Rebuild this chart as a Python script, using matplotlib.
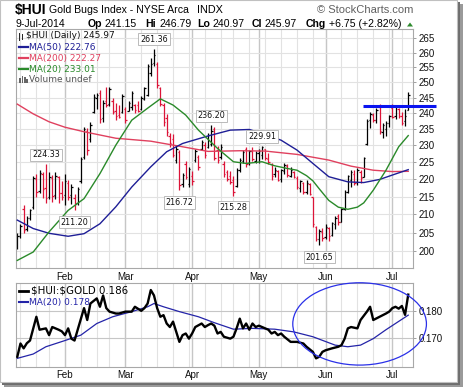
import numpy as np
import pandas as pd
import matplotlib
matplotlib.use('Agg')
import matplotlib.pyplot as plt
from matplotlib.patches import Rectangle, Ellipse, Polygon
from matplotlib.lines import Line2D
from matplotlib.ticker import FixedLocator, NullLocator, FixedFormatter

W, H = 464, 387

# ---------------- data ----------------
holidays = ['2014-01-20', '2014-02-17', '2014-04-18', '2014-05-26', '2014-07-04']
dates = pd.bdate_range('2014-01-10', '2014-07-09')
dates = dates[~dates.isin(pd.to_datetime(holidays))]

opens = [201.5, 204.0, 211.5, 206.0, 209.0, 212.0, 220.0, 216.5, 221.5, 217.5,
         215.0, 220.2, 215.5, 220.5, 216.0, 215.5, 219.0, 215.3, 214.5, 213.2,
         219.5, 226.5, 234.5, 232.0, 240.5, 244.8, 246.5, 238.5, 244.0, 242.8,
         244.0, 240.8, 239.5, 240.5, 241.5, 240.8, 242.0, 242.6, 242.5, 241.2,
         244.6, 246.0, 253.0, 256.5, 256.0, 248.0, 242.6, 238.5, 233.0, 232.0,
         225.5, 228.0, 218.5, 224.5, 218.5, 221.0, 225.5, 226.5, 229.0, 230.0,
         229.5, 230.5, 235.0, 228.5, 226.5, 224.5, 222.0, 221.0, 219.8, 218.0,
         222.8, 225.4, 228.8, 224.6, 228.4, 225.4, 227.8, 227.0, 228.8, 226.0,
         224.5, 221.4, 222.4, 220.0, 222.4, 223.8, 221.0, 222.0, 220.2, 217.4,
         218.8, 216.2, 218.6, 214.8, 206.6, 203.2, 205.2, 203.8, 206.2, 204.4,
         207.2, 209.6, 208.0, 211.6, 216.4, 219.8, 221.6, 219.2, 222.0, 220.6,
         230.4, 237.8, 239.4, 238.0, 242.0, 234.0, 235.0, 237.0, 241.6, 239.0,
         241.4, 239.0, 237.6, 241.15]
highs = [205.0, 207.3, 212.6, 209.5, 211.5, 220.8, 221.6, 222.6, 222.2, 224.33,
         222.0, 221.2, 222.0, 220.8, 219.5, 221.6, 219.8, 218.5, 215.8, 217.8,
         226.5, 235.8, 235.5, 237.2, 246.2, 246.6, 247.4, 244.2, 248.3, 248.6,
         244.8, 243.2, 242.6, 246.2, 242.0, 243.9, 247.3, 242.9, 243.9, 245.4,
         248.6, 256.0, 258.2, 261.36, 256.8, 248.4, 243.2, 239.6, 233.8, 233.6,
         229.8, 228.6, 221.8, 225.2, 223.6, 222.4, 228.8, 227.2, 231.8, 231.0,
         233.8, 236.2, 235.6, 229.8, 230.4, 225.2, 222.6, 222.4, 220.8, 223.2,
         226.2, 228.6, 229.6, 228.6, 229.6, 228.2, 228.8, 229.91, 228.9, 227.6,
         224.8, 223.6, 222.8, 223.0, 224.6, 224.4, 223.4, 222.4, 221.0, 219.8,
         219.2, 219.6, 218.8, 214.9, 206.8, 206.0, 206.2, 207.2, 206.6, 208.0,
         209.4, 210.0, 211.8, 216.8, 221.2, 222.8, 222.6, 223.2, 222.8, 226.6,
         238.2, 240.4, 240.0, 241.6, 242.9, 236.8, 237.4, 239.4, 242.8, 242.6,
         241.8, 240.4, 241.2, 246.79]
lows = [200.6, 203.5, 205.0, 205.4, 208.3, 211.5, 214.8, 216.0, 214.5, 213.2,
        214.2, 213.5, 214.2, 213.2, 214.0, 212.6, 214.0, 212.8, 211.20, 212.6,
        219.0, 226.0, 227.2, 231.0, 240.0, 241.2, 236.8, 237.2, 242.0, 242.3,
        239.6, 238.0, 238.4, 240.0, 237.0, 240.6, 241.0, 240.2, 240.5, 241.0,
        244.3, 245.6, 252.2, 255.6, 248.2, 242.2, 236.0, 233.0, 229.6, 226.4,
        224.8, 216.72, 217.6, 220.0, 217.8, 218.2, 225.0, 222.6, 228.6, 226.2,
        229.2, 229.8, 225.6, 224.8, 226.0, 220.6, 219.4, 218.6, 215.28, 217.6,
        222.0, 224.6, 223.6, 224.0, 225.2, 224.6, 224.6, 226.0, 225.6, 224.4,
        219.8, 220.6, 219.4, 219.2, 221.6, 220.6, 220.6, 220.2, 217.2, 216.4,
        215.6, 215.8, 215.4, 206.6, 202.8, 201.65, 202.8, 203.4, 202.8, 204.0,
        206.0, 207.0, 207.8, 211.2, 216.0, 217.6, 218.4, 218.2, 218.8, 220.6,
        230.0, 235.4, 237.2, 237.0, 233.6, 232.4, 233.0, 235.8, 238.6, 238.2,
        238.6, 236.4, 236.0, 240.97]
closes = [204.2, 206.8, 205.8, 209.0, 211.2, 220.3, 216.2, 221.8, 217.0, 214.6,
          220.6, 215.2, 221.0, 216.0, 215.0, 219.5, 215.0, 217.8, 213.0, 217.2,
          225.8, 235.2, 228.6, 236.4, 245.2, 246.0, 238.2, 243.4, 242.6, 247.8,
          240.4, 239.0, 238.7, 245.4, 238.0, 243.2, 246.4, 241.0, 240.8, 244.8,
          248.2, 255.4, 256.2, 259.2, 249.2, 243.0, 237.2, 234.0, 230.6, 227.2,
          229.0, 218.2, 221.2, 220.6, 223.0, 219.4, 228.2, 223.4, 231.2, 227.0,
          233.2, 234.4, 226.2, 225.6, 229.6, 221.4, 220.0, 219.2, 216.4, 222.6,
          225.6, 228.0, 224.4, 228.2, 226.0, 227.8, 228.4, 229.4, 226.2, 225.0,
          220.8, 222.8, 219.8, 222.6, 224.2, 221.2, 222.8, 220.6, 217.8, 219.4,
          216.2, 219.0, 215.8, 207.2, 203.4, 205.4, 203.6, 206.6, 204.2, 207.6,
          209.0, 207.8, 211.4, 216.2, 220.8, 222.2, 219.0, 222.6, 220.2, 226.2,
          237.6, 239.8, 237.8, 241.0, 234.4, 236.2, 236.8, 239.0, 238.8, 242.2,
          239.2, 237.0, 239.22, 245.97]

ma50_idx = [0, 5, 10, 16, 21, 26, 31, 36, 42, 47, 52, 60, 67, 73, 77, 83, 88, 93, 98, 104, 109, 114, 119, 123]
ma50_val = [208.4, 206.1, 204.8, 204.0, 204.7, 207.4, 212.1, 217.7, 223.6, 228.1, 230.6, 232.9, 234.7,
            234.9, 233.7, 231.6, 228.6, 224.6, 220.7, 219.2, 219.0, 219.9, 221.5, 222.76]
ma200_idx = [0, 5, 10, 15, 21, 31, 42, 52, 60, 70, 78, 88, 98, 105, 112, 118, 123]
ma200_val = [242.9, 239.8, 237.3, 235.6, 234.2, 232.2, 231.3, 229.6, 228.2, 228.4, 228.3, 227.3,
             225.6, 223.8, 222.6, 222.2, 222.27]
ma20_idx = [0, 5, 10, 16, 21, 26, 31, 36, 41, 45, 49, 53, 57, 63, 68, 72, 77, 81, 85, 88, 91, 93,
            95, 98, 101, 104, 107, 109, 112, 116, 120, 123]
ma20_val = [197.6, 199.8, 205.2, 211.1, 214.4, 221.6, 230.1, 237.8, 241.6, 244.6, 242.6, 239.4,
            234.7, 229.1, 225.1, 224.6, 225.1, 223.9, 223.1, 222.6, 221.0, 219.5, 217.2, 213.9,
            212.0, 211.4, 212.0, 213.2, 216.8, 222.6, 229.6, 233.01]

ratio_idx = [0, 1, 2, 3, 4, 6, 7, 9, 10, 11, 13, 14, 15, 16, 17, 18, 19, 21, 22, 23, 25, 26, 27,
             28, 29, 31, 32, 34, 36, 37, 39, 40, 41, 42, 43, 44, 45, 46, 47, 48, 49, 51, 52, 53,
             54, 55, 56, 58, 59, 60, 61, 62, 63, 64, 65, 67, 68, 69, 70, 71, 72, 73, 74, 75, 76,
             77, 79, 80, 81, 82, 83, 84, 86, 88, 90, 91, 93, 94, 95, 96, 97, 99, 101, 102, 103,
             104, 105, 107, 108, 110, 111, 112, 114, 116, 117, 118, 119, 120, 121, 122, 123]
ratio_val = [0.1630, 0.1679, 0.1661, 0.1680, 0.1690, 0.1778, 0.1730, 0.1735, 0.1710, 0.1740,
             0.1730, 0.1724, 0.1710, 0.1735, 0.1697, 0.1690, 0.1730, 0.1810, 0.1766, 0.1827,
             0.1846, 0.1815, 0.1857, 0.1810, 0.1797, 0.1790, 0.1790, 0.1797, 0.1797, 0.1815,
             0.1800, 0.1810, 0.1827, 0.1877, 0.1857, 0.1810, 0.1778, 0.1784, 0.1753, 0.1740,
             0.1760, 0.1685, 0.1710, 0.1716, 0.1697, 0.1716, 0.1740, 0.1753, 0.1740, 0.1747,
             0.1753, 0.1745, 0.1716, 0.1722, 0.1704, 0.1697, 0.1704, 0.1735, 0.1771, 0.1735,
             0.1753, 0.1730, 0.1753, 0.1740, 0.1745, 0.1740, 0.1730, 0.1716, 0.1722, 0.1710,
             0.1716, 0.1704, 0.1685, 0.1685, 0.1679, 0.1667, 0.1648, 0.1624, 0.1630, 0.1648,
             0.1654, 0.1661, 0.1667, 0.1673, 0.1697, 0.1735, 0.1740, 0.1735, 0.1766, 0.1797,
             0.1815, 0.1766, 0.1778, 0.1790, 0.1797, 0.1810, 0.1815, 0.1808, 0.1818, 0.1785,
             0.1860]
rma_idx = [0, 5, 9, 15, 20, 25, 30, 36, 41, 43, 46, 51, 57, 62, 68, 74, 81, 87, 93, 100, 104,
           108, 112, 116, 123]
rma_val = [0.1624, 0.1640, 0.1667, 0.1690, 0.1710, 0.1753, 0.1778, 0.1797, 0.1815, 0.1827,
           0.1815, 0.1797, 0.1778, 0.1756, 0.1732, 0.1735, 0.1732, 0.1722, 0.1704, 0.1673,
           0.1667, 0.1673, 0.1697, 0.1730, 0.1784]

price_ticks = [200, 205, 210, 215, 220, 225, 230, 235, 240, 245, 250, 255, 260, 265]
ratio_ticks = [0.170, 0.180]
month_names = ['Feb', 'Mar', 'Apr', 'May', 'Jun', 'Jul']

label_bars = [9, 18, 43, 51, 61, 68, 77, 95]
label_kind = ['high', 'low', 'high', 'low', 'high', 'low', 'high', 'low']

resistance = 242.4
resistance_from = 108.7

# ---------------- styling ----------------
UP = '#000000'
DOWN = '#dc1438'
C_MA50 = '#1e1e96'
C_MA200 = '#e0405e'
C_MA20 = '#2a8a2a'
GRID = '#e2e2e2'
GRID_M = '#c6c6c6'
FRAME = '#a8a8a8'

plt.rcParams['font.family'] = ['DejaVu Sans']

fig = plt.figure(figsize=(W / 100, H / 100), dpi=100)
fig.patch.set_facecolor('white')


def fx(x):
    return x / W


def fy(y):
    return 1 - y / H


# card + shadow (behind the axes)
for (x0, y1, w, h, c, ec) in [(4, 387, 460, 383, '#9a9a9a', 'none'),
                              (2, 385, 458, 383, '#6e6e6e', 'none'),
                              (0, 382, 457.5, 382, 'white', '#c0c0c0')]:
    fig.patches.append(Rectangle((fx(x0), fy(y1)), w / W, h / H, transform=fig.transFigure,
                                 facecolor=c, edgecolor=ec, lw=0.8, zorder=-5))

ax1 = fig.add_axes([fx(16), fy(268.3), (413 - 16) / W, (268.3 - 29.4) / H])
ax2 = fig.add_axes([fx(16), fy(367), (413 - 16) / W, (367 - 283) / H])

n = len(closes)
idx = np.arange(n)
xlim = (-0.41, 124.5)

month_pos = [i for i in range(1, n) if dates[i].month != dates[i - 1].month]
week_pos = [i for i in range(1, n) if dates[i].weekday() < dates[i - 1].weekday()]

for ax in (ax1, ax2):
    ax.set_xlim(*xlim)
    ax.patch.set_alpha(0)
    for s in ax.spines.values():
        s.set_color(FRAME)
        s.set_linewidth(0.8)
    for w in week_pos:
        ax.axvline(w, color=GRID, lw=0.8, zorder=0)
    for m in month_pos:
        ax.axvline(m, color=GRID_M, lw=1.0, zorder=0)
    ax.xaxis.set_major_locator(FixedLocator(month_pos))
    ax.xaxis.set_major_formatter(FixedFormatter(month_names))
    ax.tick_params(axis='x', length=0, pad=2.5, labelsize=7, labelcolor='#111111')
    ax.yaxis.tick_right()
    ax.tick_params(axis='y', which='major', direction='out', length=2.5, width=0.6,
                   color='#909090', pad=1.5, labelsize=7, labelcolor='#111111')

# ----- main panel -----
ax1.set_yscale('log')
ax1.set_ylim(195.55, 268.1)
ax1.yaxis.set_major_locator(FixedLocator(price_ticks))
ax1.yaxis.set_major_formatter(FixedFormatter([str(t) for t in price_ticks]))
ax1.yaxis.set_minor_locator(NullLocator())
for t in price_ticks:
    ax1.axhline(t, color=GRID, lw=0.8, zorder=0)

ax1.plot(ma200_idx, ma200_val, color=C_MA200, lw=1.0, zorder=3)
ax1.plot(ma50_idx, ma50_val, color=C_MA50, lw=1.0, zorder=3)
ax1.plot(ma20_idx, ma20_val, color=C_MA20, lw=1.0, zorder=3)

cols = [UP] + [UP if closes[i] >= closes[i - 1] else DOWN for i in range(1, n)]
ax1.vlines(idx, lows, highs, colors=cols, lw=0.9, zorder=2)
ax1.hlines(opens, idx - 0.45, idx, colors=cols, lw=0.9, zorder=2)
ax1.hlines(closes, idx, idx + 0.45, colors=cols, lw=0.9, zorder=2)

ax1.plot([resistance_from, 131.7], [resistance, resistance], color='#0a14f0', lw=2.2,
         solid_capstyle='butt', clip_on=False, zorder=7)

for b, k in zip(label_bars, label_kind):
    v = highs[b] if k == 'high' else lows[b]
    off = 9.5 if k == 'high' else -12
    ax1.annotate(f'{v:.2f}', xy=(b, v), xytext=(0, off), textcoords='offset pixels',
                 ha='center', va='center', fontsize=5.8, color='#111111', zorder=8,
                 bbox=dict(boxstyle='square,pad=0.22', fc='white', ec='#b0b0b0', lw=0.6))

# legend main panel
leg_rows = [(36, r'\$HUI (Daily) 245.97', '#111111', None, 26),
            (47.3, 'MA(50) 222.76', C_MA50, C_MA50, 29.3),
            (58.3, 'MA(200) 222.27', C_MA200, C_MA200, 29.3),
            (69.3, 'MA(20) 233.01', C_MA20, C_MA20, 29.3),
            (80, 'Volume undef', '#555555', None, 29.3)]
for y, txt, c, lc, x0 in leg_rows:
    fig.text(fx(x0), fy(y), txt, fontsize=6.5, color=c, va='center', ha='left', zorder=9)
    if lc is not None:
        fig.lines.append(Line2D([fx(19.3), fx(28.3)], [fy(y), fy(y)], transform=fig.transFigure,
                                color=lc, lw=1.6))
for xo, y0, y1 in [(19.5, 32.5, 39.5), (22.5, 33.5, 38.5)]:
    fig.lines.append(Line2D([fx(xo), fx(xo)], [fy(y0), fy(y1)], transform=fig.transFigure,
                            color='#222222', lw=0.7))
for xo, hh in [(19.5, 5), (21.8, 7), (24.1, 6), (26.4, 4)]:
    fig.patches.append(Rectangle((fx(xo), fy(83)), 1.6 / W, hh / H, transform=fig.transFigure,
                                 facecolor='#666666', edgecolor='none'))

# ----- lower panel -----
ax2.set_ylim(0.1592, 0.1903)
ax2.yaxis.set_major_locator(FixedLocator(ratio_ticks))
ax2.yaxis.set_major_formatter(FixedFormatter(['0.170', '0.180']))
ax2.yaxis.set_minor_locator(NullLocator())
for t in ratio_ticks:
    ax2.axhline(t, color=GRID_M, lw=0.8, zorder=0)
ax2.plot(rma_idx, rma_val, color='#2424a8', lw=0.9, zorder=3)
ax2.plot(ratio_idx, ratio_val, color='#000000', lw=1.7, zorder=4, solid_joinstyle='round')

ell_c = (107.7, 0.17515)
ax2.add_patch(Ellipse(ell_c, 42.05, 0.03048, fill=False, ec='#2a30e8', lw=0.9,
                      clip_on=False, zorder=9))

fig.lines.append(Line2D([fx(18.5), fx(28.5)], [fy(290.7), fy(290.7)], transform=fig.transFigure,
                        color='#000000', lw=2.0))
fig.text(fx(31.5), fy(290.7), r'\$HUI:\$GOLD 0.186', fontsize=7.4, color='#000000',
         va='center', ha='left')
fig.lines.append(Line2D([fx(18.5), fx(28.5)], [fy(302.3), fy(302.3)], transform=fig.transFigure,
                        color='#2424a8', lw=1.5))
fig.text(fx(29.3), fy(302.3), 'MA(20) 0.178', fontsize=6.5, color='#2424a8',
         va='center', ha='left')

for ax in (ax1, ax2):
    for lab in ax.get_xticklabels() + ax.get_yticklabels():
        lab.set_fontfamily('Liberation Sans')

# ----- header -----
HF = 'Liberation Sans'
fig.text(fx(15), fy(9.8), r'\$HUI', fontsize=10, fontweight='bold', family=HF, va='center')
fig.text(fx(49), fy(10.3), 'Gold Bugs Index - NYSE Arca', fontsize=7.6, family=HF, va='center')
fig.text(fx(197.5), fy(10.3), 'INDX', fontsize=7.8, family=HF, va='center')
fig.text(fx(413), fy(10.3), '\u00a9 StockCharts.com', fontsize=8.0, family=HF, va='center',
         ha='right', color='#606060')
row2 = [(15.5, '9-Jul-2014', 'normal'), (88, 'Op', 'bold'), (105, '241.15', 'normal'),
        (145, 'Hi', 'bold'), (160, '246.79', 'normal'), (197, 'Lo', 'bold'),
        (213, '240.97', 'normal'), (252, 'Cl', 'bold'), (265, '245.97', 'normal'),
        (306, 'Chg', 'bold'), (329, '+6.75 (+2.82%)', 'normal')]
for x, t, wgt in row2:
    fig.text(fx(x), fy(24), t, fontsize=7.6, family=HF, fontweight=wgt, va='center')
fig.patches.append(Polygon([[fx(407), fy(26.5)], [fx(413), fy(26.5)], [fx(410), fy(22.5)]],
                           closed=True, transform=fig.transFigure, facecolor='#2e8b2e',
                           edgecolor='none'))

fig.savefig('out.png', dpi=100, facecolor='white')
